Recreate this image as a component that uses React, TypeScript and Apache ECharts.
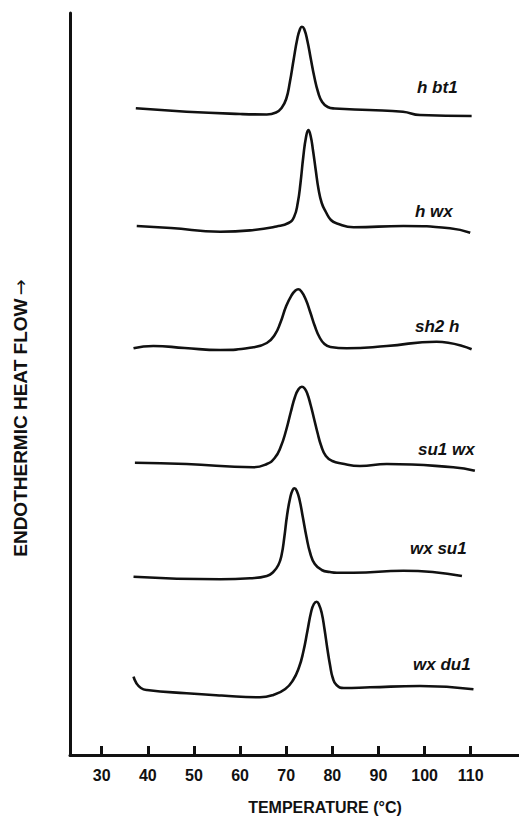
import React, { useEffect, useRef } from "react";
import * as echarts from "echarts";

// Temperature (°C) and endothermic heat flow (arbitrary units, traces stacked)
const T_H_BT1 = [37.4, 48.4, 60.0, 65.8, 67.8, 69.0, 70.0, 70.8, 71.6, 72.4, 73.0, 73.4, 73.9, 74.6, 75.3, 76.1, 76.9, 77.8, 79.0, 80.5, 88.0, 95.3, 99.0, 110.2];
const F_H_BT1 = [646.7, 643.3, 641, 640.5, 642.5, 647, 656, 673, 695, 716, 726, 728.3, 726, 714, 697, 678, 663, 653, 648, 646.5, 645, 643.3, 640, 639];

const T_H_WX = [37.6, 45.0, 55.7, 63.0, 67.9, 70.5, 71.7, 72.5, 73.1, 73.7, 74.3, 74.8, 75.3, 75.8, 76.4, 77.0, 77.7, 78.6, 79.7, 81.0, 84.6, 95.4, 105.5, 109.9];
const F_H_WX = [529, 527, 523.3, 525, 528.5, 532, 538, 552, 572, 598, 618, 625, 619, 605, 585, 566, 552, 543, 535, 531.5, 527.7, 529, 526.7, 522.3];

const T_SH2_H = [36.9, 41.2, 48.0, 55.7, 62.9, 65.8, 67.5, 68.8, 70.0, 71.2, 72.0, 72.6, 73.3, 74.2, 75.2, 76.2, 77.2, 78.3, 79.6, 83.1, 91.8, 102.6, 110.2];
const F_SH2_H = [406.7, 409, 407, 405, 407.7, 412, 420, 433, 449, 460, 464.5, 465.7, 463.5, 456, 443, 429, 418, 411, 408, 406.7, 409, 413.3, 405.7];

const T_SU1_WX = [37.2, 48.4, 62.9, 65.8, 67.5, 68.8, 70.0, 71.0, 71.9, 72.7, 73.4, 74.0, 74.6, 75.3, 76.0, 76.8, 77.6, 78.6, 80.0, 82.0, 86.0, 91.8, 106.2, 110.9];
const F_SU1_WX = [292.3, 291, 287.7, 291, 297, 308, 325, 343, 358, 366, 368.3, 366.5, 361, 350, 337, 322, 309, 299, 294, 291.5, 289, 291, 287.7, 284.3];

const T_WX_SU1 = [36.9, 55.7, 62.2, 65.8, 67.2, 68.3, 69.0, 69.6, 70.2, 70.9, 71.4, 71.8, 72.3, 72.9, 73.6, 74.4, 75.2, 76.2, 77.7, 79.5, 81.0, 84.6, 95.4, 108.1];
const F_WX_SU1 = [178.3, 175.7, 176.7, 179, 183, 190, 200, 218, 240, 258, 265, 266.7, 264, 255, 238, 218, 202, 191, 185, 183, 182.3, 182.3, 184.3, 179];

const T_WX_DU1 = [36.9, 37.5, 38.5, 39.8, 48.4, 56.0, 64.3, 67.2, 69.8, 71.5, 72.8, 73.7, 74.6, 75.4, 76.0, 76.6, 77.1, 77.7, 78.3, 78.9, 79.5, 80.1, 80.9, 82.5, 88.2, 99.0, 110.6];
const F_WX_DU1 = [78.3, 72, 67, 65, 61.7, 59.5, 57.7, 60, 66, 75, 88, 103, 124, 143, 151, 153.3, 150.5, 142, 126, 107, 90, 77, 70, 67, 67.7, 69, 65.7];

const SAMPLES = ["h bt1", "h wx", "sh2 h", "su1 wx", "wx su1", "wx du1"];
const TEMPS = [T_H_BT1, T_H_WX, T_SH2_H, T_SU1_WX, T_WX_SU1, T_WX_DU1];
const FLOWS = [F_H_BT1, F_H_WX, F_SH2_H, F_SU1_WX, F_WX_SU1, F_WX_DU1];

const X_TICKS = [30, 40, 50, 60, 70, 80, 90, 100, 110];
const X_MIN = 23.13;
const X_MAX = 120.47;
const Y_MIN = 0;
const Y_MAX = 742;

const X_TITLE = "TEMPERATURE (°C)";
const Y_TITLE_WORDS = "ENDOTHERMIC HEAT FLOW";
const Y_TITLE_ARROW = "→";

const LABEL_POS = [
  [417, 87],
  [415, 211],
  [415, 326],
  [418, 449],
  [410, 548],
  [413, 664],
];

const INK = "#111111";
const FONT = '"Liberation Sans", Arial, Helvetica, sans-serif';

export default function App() {
  const ref = useRef<HTMLDivElement>(null);

  useEffect(() => {
    if (!ref.current) return;
    const chart = echarts.init(ref.current, undefined, { renderer: "svg" });

    const series = SAMPLES.map((name, i) => ({
      name,
      type: "line",
      data: TEMPS[i].map((t, j) => [t, FLOWS[i][j]]),
      smooth: 0.5,
      symbol: "none",
      lineStyle: { color: INK, width: 2.6 },
      silent: true,
    }));

    const labels = SAMPLES.map((name, i) => ({
      type: "text",
      x: LABEL_POS[i][0],
      y: LABEL_POS[i][1],
      style: {
        text: name,
        fill: INK,
        font: `italic bold 17px ${FONT}`,
        textAlign: "left",
        textVerticalAlign: "middle",
      },
    }));

    chart.setOption({
      animation: false,
      backgroundColor: "#ffffff",
      grid: { left: 70, right: 0, top: 13, bottom: 72 },
      xAxis: {
        type: "value",
        min: X_MIN,
        max: X_MAX,
        axisLine: { show: true, lineStyle: { color: INK, width: 3 } },
        axisTick: {
          show: true,
          inside: true,
          length: 9,
          customValues: X_TICKS,
          lineStyle: { color: INK, width: 3 },
        },
        axisLabel: {
          customValues: X_TICKS,
          color: INK,
          fontSize: 16,
          fontWeight: "bold",
          fontFamily: FONT,
          margin: 12,
        },
        splitLine: { show: false },
      },
      yAxis: {
        type: "value",
        min: Y_MIN,
        max: Y_MAX,
        axisLine: { show: true, lineStyle: { color: INK, width: 3 } },
        axisTick: { show: false },
        axisLabel: { show: false },
        splitLine: { show: false },
      },
      series,
      graphic: [
        ...labels,
        {
          type: "text",
          x: 325,
          y: 807,
          style: {
            text: X_TITLE,
            fill: INK,
            font: `bold 16px ${FONT}`,
            textAlign: "center",
            textVerticalAlign: "middle",
          },
        },
        {
          type: "text",
          x: 20,
          y: 418,
          rotation: Math.PI / 2,
          style: {
            text: `{w|${Y_TITLE_WORDS}} {a|${Y_TITLE_ARROW}}`,
            textAlign: "center",
            textVerticalAlign: "middle",
            rich: {
              w: { fill: INK, font: `bold 19px ${FONT}` },
              a: { fill: INK, font: `19px "DejaVu Sans", sans-serif` },
            },
          },
        },
      ],
    });

    return () => chart.dispose();
  }, []);

  return (
    <div
      ref={ref}
      style={{ position: "fixed", left: 0, top: 0, width: 519, height: 827, background: "#fff" }}
    />
  );
}
